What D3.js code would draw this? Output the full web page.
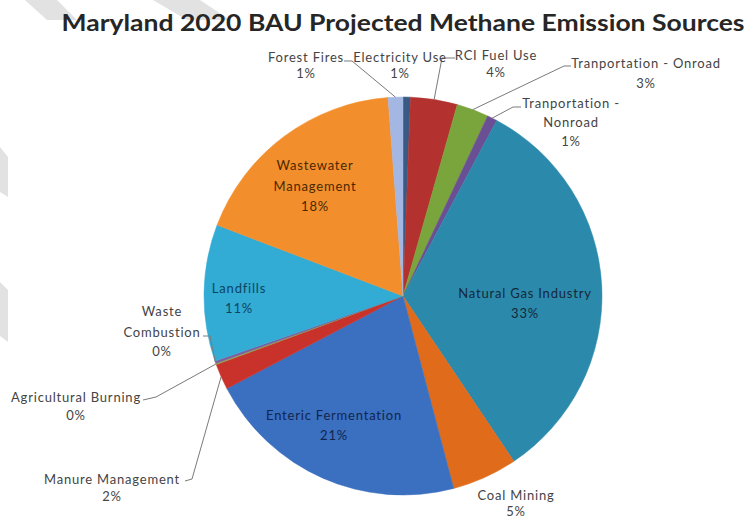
<!DOCTYPE html>
<html>
<head>
<meta charset="utf-8">
<script src="https://cdn.jsdelivr.net/npm/d3@7"></script>
<style>
  body { margin: 0; background: #fff; }
  svg { display: block; }
</style>
</head>
<body>
<svg id="chart" width="754" height="521"></svg>
<script>
// Methane emission sources, clockwise from 12 o'clock
const sources = [
  "Electricity Use", "RCI Fuel Use", "Tranportation - Onroad", "Tranportation - Nonroad",
  "Natural Gas Industry", "Coal Mining", "Enteric Fermentation", "Manure Management",
  "Agricultural Burning", "Waste Combustion", "Landfills", "Wastewater Management", "Forest Fires"
];
// Share of projected 2020 emissions (%)
const shares = [0.6, 3.8, 2.6, 0.8, 32.8, 5.3, 21.4, 2.1, 0.1, 0.2, 11.1, 18.0, 1.2];
const colors = [
  "#3a5a86", "#b3322f", "#7aa53c", "#6a4f95",
  "#2b8aab", "#e06b1a", "#3b6fbf", "#c9322b",
  "#8aa84a", "#7d5fa0", "#32abd5", "#f28f2c", "#a4b6e2"
];
const title = "Maryland 2020 BAU Projected Methane Emission Sources";

// Label placement: name lines, centre x, line centres y, inside colour, leader elbow
const labelLayout = {
  "Electricity Use":        { lines: ["Electricity Use"], x: 400, ys: [58, 74] },
  "RCI Fuel Use":           { lines: ["RCI Fuel Use"], x: 496, ys: [56, 73], leader: [[455, 58], [442, 58]] },
  "Tranportation - Onroad": { lines: ["Tranportation - Onroad"], x: 646, ys: [64, 84], leader: [[571, 66], [564, 66]] },
  "Tranportation - Nonroad":{ lines: ["Tranportation -", "Nonroad"], x: 571, ys: [104, 123, 142], leader: [[521, 107], [513, 107]] },
  "Natural Gas Industry":   { lines: ["Natural Gas Industry"], x: 525, ys: [294, 314], inside: "#14283a" },
  "Coal Mining":            { lines: ["Coal Mining"], x: 516, ys: [496, 512] },
  "Enteric Fermentation":   { lines: ["Enteric Fermentation"], x: 334, ys: [416, 436], inside: "#102650" },
  "Manure Management":      { lines: ["Manure Management"], x: 112, ys: [480, 497], leader: [[185, 481], [192, 479]] },
  "Agricultural Burning":   { lines: ["Agricultural Burning"], x: 76, ys: [398, 416], leader: [[143, 400], [156, 397]] },
  "Waste Combustion":       { lines: ["Waste", "Combustion"], x: 162, ys: [312, 333, 352], leader: [[203, 336], [210, 336]] },
  "Landfills":              { lines: ["Landfills"], x: 239, ys: [289, 309], inside: "#0c4560" },
  "Wastewater Management":  { lines: ["Wastewater", "Management"], x: 315, ys: [166, 187, 207], inside: "#4a2800" },
  "Forest Fires":           { lines: ["Forest Fires"], x: 306, ys: [58, 74], leader: [[344, 61], [352, 61]] }
};

const svg = d3.select("#chart");
const cx = 403, cy = 296, radius = 199;

// light diagonal bands behind the chart
const bands = [
  [[25, 0], [57, 0], [77, 20], [47, 20]],
  [[153, 0], [200, 0], [230, 20], [187, 20]],
  [[0, 147], [8, 157], [8, 197], [0, 192]],
  [[0, 282], [8, 290], [8, 342], [0, 336]]
];
svg.selectAll("polygon.band").data(bands).join("polygon")
  .attr("class", "band")
  .attr("points", d => d.map(p => p.join(",")).join(" "))
  .attr("fill", "#e2e2e2");

svg.append("text")
  .attr("x", 403).attr("y", 31)
  .attr("text-anchor", "middle")
  .attr("font-family", "Lato, 'Open Sans', sans-serif")
  .attr("font-weight", "bold")
  .attr("font-size", 23)
  .attr("fill", "#262626")
  .attr("textLength", 683)
  .attr("lengthAdjust", "spacingAndGlyphs")
  .text(title);

const data = sources.map((name, i) => ({ name, value: shares[i], color: colors[i] }));
const arcs = d3.pie().sort(null).value(d => d.value)(data);
const arc = d3.arc().innerRadius(0).outerRadius(radius);

const g = svg.append("g").attr("transform", `translate(${cx},${cy})`);
g.selectAll("path.slice").data(arcs).join("path")
  .attr("class", "slice")
  .attr("d", arc)
  .attr("fill", d => d.data.color)
  .attr("stroke", d => d.data.color)
  .attr("stroke-width", 0.5);

const pct = d3.format(".0f");

// leader lines from each outside label to the middle of its slice's rim
const edgePoint = a => {
  const m = (a.startAngle + a.endAngle) / 2;
  return [cx + radius * Math.sin(m), cy - radius * Math.cos(m)];
};
arcs.forEach(a => {
  const lay = labelLayout[a.data.name];
  if (!lay.leader) return;
  const pts = lay.leader.concat([edgePoint(a)]);
  svg.append("path")
    .attr("d", d3.line()(pts))
    .attr("fill", "none")
    .attr("stroke", "#7a7a7a")
    .attr("stroke-width", 1);
});

// data labels: name plus rounded share
arcs.forEach(a => {
  const lay = labelLayout[a.data.name];
  const lines = lay.lines.concat([pct(a.data.value) + "%"]);
  const t = svg.append("text")
    .attr("text-anchor", "middle")
    .attr("font-family", "Lato, 'Open Sans', sans-serif")
    .attr("font-size", 13)
    .attr("letter-spacing", 0.8)
    .attr("fill", lay.inside || "#444");
  lines.forEach((s, i) => {
    t.append("tspan").attr("x", lay.x).attr("y", lay.ys[i] + 4).text(s);
  });
});
</script>
</body>
</html>
